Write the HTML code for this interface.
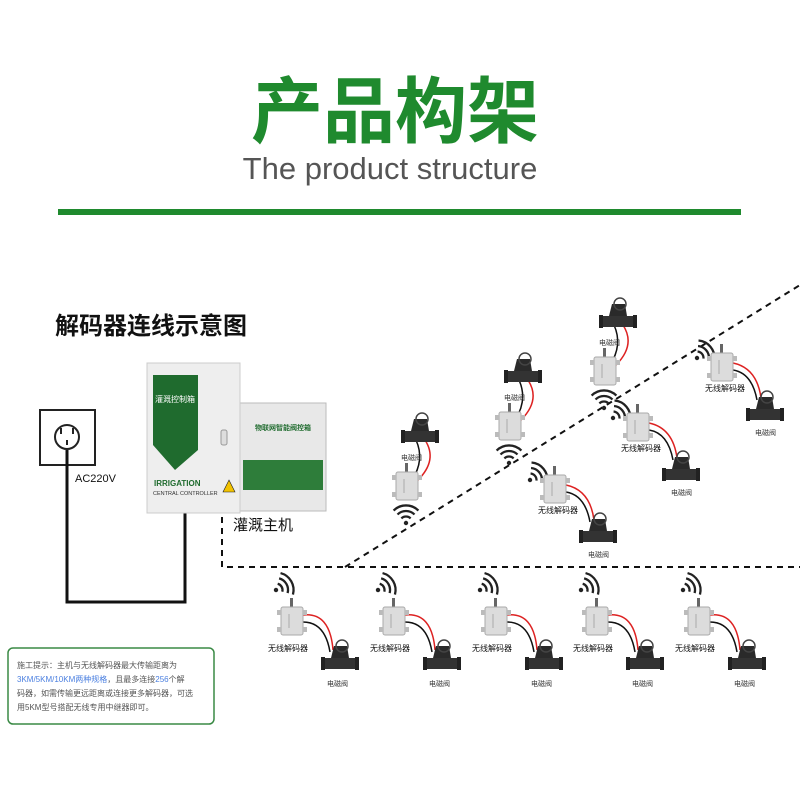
<!DOCTYPE html>
<html><head><meta charset="utf-8"><style>
body{margin:0;background:#fff;}
.w{position:relative;width:800px;height:800px;overflow:hidden;font-family:"Liberation Sans","Noto Sans CJK SC",sans-serif;}
</style></head><body><div class="w">
<svg width="800" height="800" viewBox="0 0 800 800" xmlns="http://www.w3.org/2000/svg" style="position:absolute;left:0;top:0">
<defs>
<g id="dec"><rect x="-2" y="-22" width="3" height="10" fill="#666"/><rect x="-11" y="-13" width="22" height="28" rx="2" fill="#dcdcdc" stroke="#aaa"/><rect x="-15" y="-10" width="4" height="5" fill="#bbb"/><rect x="11" y="-10" width="4" height="5" fill="#bbb"/><rect x="-15" y="7" width="4" height="5" fill="#bbb"/><rect x="11" y="7" width="4" height="5" fill="#bbb"/><line x1="-3" y1="-6" x2="-3" y2="8" stroke="#aaa"/></g>
<g id="val"><rect x="-17" y="-4" width="34" height="11" rx="2" fill="#333"/><rect x="-19" y="-5" width="4" height="13" fill="#222"/><rect x="15" y="-5" width="4" height="13" fill="#222"/><path d="M-9,-4 L-6,-16 L7,-16 L9,-4 Z" fill="#2a2a2a"/><circle cx="2" cy="-16" r="6" fill="none" stroke="#444" stroke-width="1.5"/></g>
<g id="wf" fill="none" stroke="#222" stroke-width="2.3"><circle cx="0" cy="0" r="2.2" fill="#222" stroke="none"/><path d="M4.6,-4.6 A6.5,6.5 0 0 1 4.6,4.6"/><path d="M8.5,-8.5 A12,12 0 0 1 8.5,8.5"/><path d="M12.4,-12.4 A17.5,17.5 0 0 1 12.4,12.4"/></g>
</defs>
<text x="395" y="137" text-anchor="middle" font-size="72" font-weight="bold" fill="#1f8a2e" font-family="Noto Sans CJK SC,sans-serif">产品构架</text>
<text x="390" y="179" text-anchor="middle" font-size="31" fill="#555" font-family="Liberation Sans,sans-serif">The product structure</text>
<rect x="58" y="209" width="683" height="6" fill="#1f8a2e"/>
<text x="55" y="334" font-size="24" font-weight="bold" fill="#111">解码器连线示意图</text>
<rect x="40" y="410" width="55" height="55" fill="#fff" stroke="#222" stroke-width="2"/>
<circle cx="67" cy="437" r="12" fill="none" stroke="#222" stroke-width="2"/>
<rect x="60" y="428" width="2" height="6" fill="#222"/><rect x="72" y="428" width="2" height="6" fill="#222"/><rect x="66" y="440" width="2" height="5" fill="#222"/>
<path d="M67,450 V602 H185 V512" fill="none" stroke="#111" stroke-width="3"/>
<text x="75" y="482" font-size="11" fill="#111">AC220V</text>
<rect x="240" y="403" width="86" height="108" fill="#e8e8e8" stroke="#bbb"/>
<rect x="243" y="460" width="80" height="30" fill="#2e7d3a"/>
<text x="283" y="430" font-size="7" text-anchor="middle" fill="#1f6b2e" font-weight="bold">物联网智能阀控箱</text>
<rect x="147" y="363" width="93" height="150" fill="#eeeeee" stroke="#ccc"/>
<path d="M153,375 H198 V450 L175,470 L153,445 Z" fill="#1f6b2e"/>
<text x="175" y="402" font-size="8" text-anchor="middle" fill="#fff">灌溉控制箱</text>
<text x="154" y="486" font-size="8" font-weight="bold" fill="#1f6b2e">IRRIGATION</text>
<text x="153" y="495" font-size="5.5" fill="#333">CENTRAL CONTROLLER</text>
<path d="M229,480 L235,492 H223 Z" fill="#f2c200" stroke="#222" stroke-width=".6"/>
<rect x="221" y="430" width="6" height="15" rx="2" fill="#ddd" stroke="#999"/>
<text x="233" y="530" font-size="15" fill="#111">灌溉主机</text>
<path d="M222,517 V567 H800 M345,567 L800,285" fill="none" stroke="#111" stroke-width="2" stroke-dasharray="6,5"/>
<g id="bu">
<use href="#wf" x="276" y="590" transform="rotate(-30 276 590)"/>
<path d="M303,615 Q330,612 333,650" fill="none" stroke="#d22" stroke-width="1.5"/>
<path d="M303,622 Q325,622 330,652" fill="none" stroke="#111" stroke-width="1.5"/>
<use href="#dec" x="292" y="620"/>
<use href="#val" x="340" y="662"/>
<text x="268" y="651" font-size="8" fill="#111">无线解码器</text>
<text x="327" y="686" font-size="7" fill="#333">电磁阀</text>
</g>
<use href="#bu" x="102"/><use href="#bu" x="204"/><use href="#bu" x="305"/><use href="#bu" x="407"/>
<g id="ua">
<path d="M425,440 Q438,460 418,480" fill="none" stroke="#d22" stroke-width="1.5"/>
<path d="M416,440 Q425,460 412,480" fill="none" stroke="#111" stroke-width="1.5"/>
<use href="#val" x="420" y="435"/>
<text x="401" y="460" font-size="7" fill="#333">电磁阀</text>
<use href="#dec" x="407" y="485"/>
<use href="#wf" x="406" y="523" transform="rotate(-90 406 523)"/>
</g>
<use href="#ua" x="103" y="-60"/><use href="#ua" x="198" y="-115"/>
<g id="ub">
<use href="#wf" x="530" y="480" transform="rotate(-40 530 480)"/>
<path d="M566,485 Q590,490 594,520" fill="none" stroke="#d22" stroke-width="1.5"/>
<path d="M566,492 Q585,495 590,522" fill="none" stroke="#111" stroke-width="1.5"/>
<use href="#dec" x="555" y="488"/>
<text x="538" y="513" font-size="8" fill="#111">无线解码器</text>
<use href="#val" x="598" y="535"/>
<text x="588" y="557" font-size="7" fill="#333">电磁阀</text>
</g>
<use href="#ub" x="83" y="-62"/><use href="#ub" x="167" y="-122"/>
<rect x="8" y="648" width="206" height="76" rx="5" fill="#fff" stroke="#3a8a45" stroke-width="1.5"/>
<text font-size="8" fill="#555"><tspan x="17" y="668">施工提示：主机与无线解码器最大传输距离为</tspan><tspan x="17" y="682"><tspan fill="#4a7fe0">3KM/5KM/10KM两种规格</tspan>，且最多连接<tspan fill="#4a7fe0">256</tspan>个解</tspan><tspan x="17" y="696">码器，如需传输更远距离或连接更多解码器，可选</tspan><tspan x="17" y="710">用5KM型号搭配无线专用中继器即可。</tspan></text>
</svg>
</div></body></html>
